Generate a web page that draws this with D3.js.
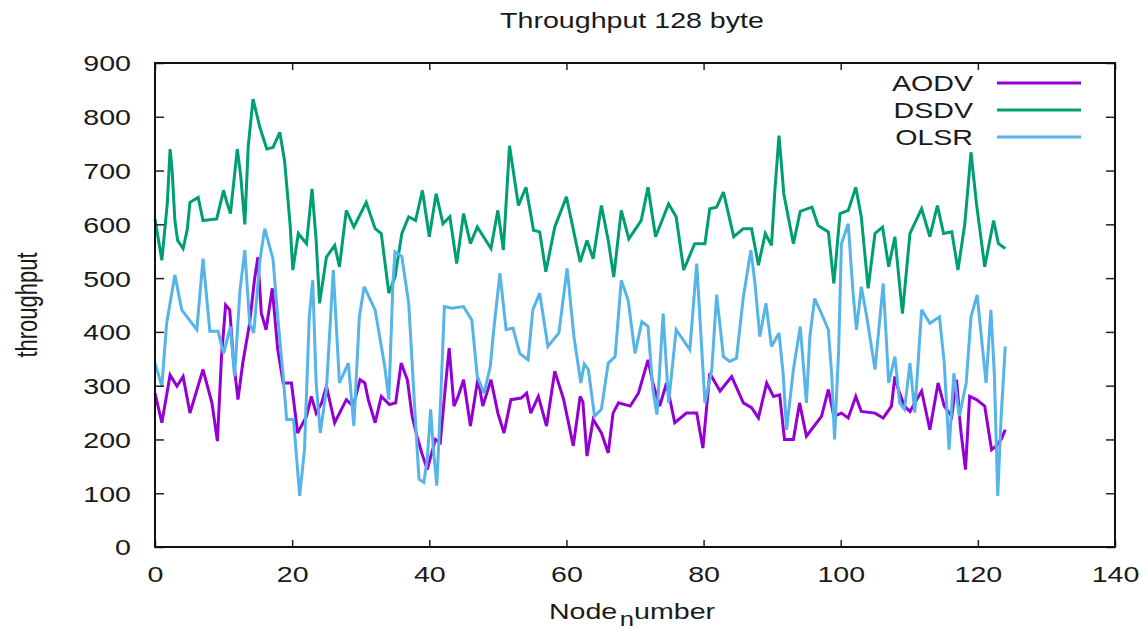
<!DOCTYPE html>
<html>
<head>
<meta charset="utf-8">
<script src="https://cdn.jsdelivr.net/npm/d3@7"></script>
<style>
  html, body { margin: 0; padding: 0; background: #fff; }
  svg { display: block; }
  text { font-family: "Liberation Sans", Arial, sans-serif; fill: #1a1a1a; }
</style>
</head>
<body>
<svg id="chart" width="1146" height="629"></svg>
<script>
// Throughput per node number for three routing protocols, 128-byte packets
const seriesNames = ["AODV", "DSDV", "OLSR"];
const seriesColors = ["#9400d3", "#009e73", "#56b4e9"];

const aodv = [
  [0,286],[1,231],[2.2,320],[3.2,299],[4.1,317],[5.1,249],[7,330],[8.3,268],[9.1,197],[9.7,354],
  [10.3,450],[10.9,441],[11.4,354],[12.1,274],[12.8,342],[13.8,416],[14.5,496],[15,539],[15.5,435],[16.2,404],
  [17.1,481],[17.9,367],[18.7,305],[19.9,305],[20.8,212],[22.1,243],[22.8,280],[23.5,249],[24.3,268],[25,299],
  [26.2,231],[27.9,274],[28.9,262],[29.9,311],[30.6,305],[31.1,274],[32.1,231],[33,280],[34.2,265],[35.1,268],
  [35.9,342],[36.8,311],[37.5,243],[38.2,206],[38.9,175],[39.7,144],[40.1,163],[40.9,200],[41.6,194],[42.4,305],
  [42.9,370],[43.6,262],[44.2,280],[45,311],[46,225],[47.1,314],[47.8,262],[49,311],[50,249],[50.9,212],
  [51.9,274],[53.4,277],[54.2,286],[54.8,249],[55.9,280],[57.1,225],[58.3,327],[59.6,274],[61,188],[62,280],
  [62.4,270],[63,169],[63.9,237],[65.1,212],[66.1,175],[66.8,249],[67.6,268],[69.3,262],[70.5,286],[71.9,348],
  [72.6,305],[73.6,262],[74.6,305],[75.8,231],[77.5,249],[79,249],[79.9,184],[80.9,323],[82.4,290],[84.1,317],
  [85.8,268],[87,259],[88,240],[89.2,305],[90.2,280],[91.1,283],[91.8,200],[93.1,200],[94,268],[95,206],
  [97.2,243],[98.2,293],[99,243],[100.1,249],[101.1,240],[102.2,280],[103,252],[105,249],[106.2,240],[107.4,262],
  [107.9,317],[108.4,293],[109.3,262],[110.1,252],[111.8,290],[113,218],[114.2,305],[115.1,262],[116.2,243],[116.9,311],
  [117.5,218],[118.2,144],[118.8,280],[119.8,274],[121,262],[122,181],[122.7,188],[123.4,200],[124,218]
];

const dsdv = [
  [0,610],[1,533],[1.8,640],[2.2,740],[2.5,700],[2.9,607],[3.3,570],[4.1,555],[4.7,590],[5.1,641],
  [6.3,650],[7,607],[9,610],[10,663],[10.5,640],[11,620],[12,740],[12.5,690],[13.1,600],[13.6,746],
  [14.3,833],[15.3,780],[16.3,740],[17.2,743],[18.2,771],[18.9,718],[19.7,600],[20.1,515],[20.9,583],[22.1,564],
  [22.9,666],[23.5,570],[24,453],[25,539],[26.2,561],[26.9,521],[27.9,626],[29,595],[30.8,641],[32.1,592],
  [33,583],[34.1,472],[35,502],[36,583],[37,614],[38,607],[39,663],[40,577],[41,657],[42,601],
  [43,614],[44,527],[45,620],[46,564],[47,595],[49,555],[50,626],[50.8,552],[51.7,746],[53,635],
  [54.1,669],[55.2,589],[56.1,586],[57,512],[58.3,595],[60,651],[62,530],[63,570],[63.9,536],[65.1,635],
  [66.1,570],[66.9,502],[68,626],[69.1,573],[70.9,607],[71.9,669],[73,577],[74.9,638],[76,614],[77.1,515],
  [78.7,564],[80.2,564],[80.9,629],[81.9,632],[82.9,660],[84.4,577],[85.8,592],[87,592],[88,524],[89,583],
  [89.9,561],[90.4,663],[91,765],[91.7,657],[93.1,564],[94.1,624],[95.8,632],[96.7,598],[98.2,586],[99,490],
  [99.9,620],[101.1,626],[102.2,669],[103,614],[104,481],[105,583],[106.1,595],[107,521],[107.9,577],[109,434],
  [110.1,583],[111.8,629],[113,577],[114.1,635],[115,583],[116.2,586],[117.1,515],[118.1,601],[119,734],[119.8,638],
  [121,521],[122.3,607],[123,564],[124,555]
];

const olsr = [
  [0,342],[1,299],[1.7,416],[2.9,506],[3.9,441],[6.1,404],[7,536],[8,401],[9.2,401],[10,360],
  [11,410],[11.6,317],[12.4,478],[13.1,552],[13.8,416],[14.4,398],[15.3,533],[16,592],[17.2,536],[17.9,428],
  [18.7,317],[19.2,237],[20.2,237],[21.1,95],[21.8,181],[22.5,428],[23,496],[23.5,305],[24.1,212],[25,293],
  [26,515],[26.9,305],[28.2,342],[29,225],[29.8,428],[30.5,484],[32.1,441],[33.5,336],[34.1,274],[34.7,490],
  [35,549],[36,540],[37,453],[38,231],[38.5,126],[39.2,120],[39.7,163],[40.2,256],[40.6,181],[41.1,114],
  [41.6,256],[42.2,447],[43.3,444],[45,447],[46.2,422],[47,317],[48,286],[48.9,336],[49.4,404],[50.3,509],
  [51.2,404],[52.2,407],[53.2,360],[54.4,348],[55.1,441],[56.1,472],[57.3,373],[58.9,398],[60.1,518],[61.1,391],
  [62.1,305],[62.6,340],[63.2,330],[64.1,243],[65.1,256],[66.1,342],[67.1,354],[68,496],[69,459],[70,360],
  [71,419],[71.9,410],[72.6,293],[73.2,246],[74.1,434],[74.9,268],[76,404],[78,367],[79,527],[80.2,268],
  [81.2,330],[81.9,469],[82.9,354],[83.8,345],[84.8,351],[85.8,465],[86.9,552],[87.5,490],[88.2,391],[89.1,453],
  [89.9,373],[91,398],[91.6,323],[92.1,218],[93.1,330],[94.1,410],[95,268],[95.5,391],[96.2,462],[97.2,434],
  [98.2,404],[98.7,317],[99.1,200],[99.7,367],[100.1,564],[101.1,601],[101.8,472],[102.3,404],[103,484],[103.8,428],
  [105,330],[106.2,490],[107,305],[107.9,354],[108.6,268],[109.3,256],[110.1,342],[110.8,250],[111.8,441],[113,416],
  [114.4,428],[115.1,342],[115.8,181],[116.5,323],[117.3,243],[118.3,305],[119,428],[119.9,469],[120.7,367],[121.2,305],
  [121.9,441],[122.4,323],[122.9,95],[123.4,243],[124,373]
];

const xTicks = [0, 20, 40, 60, 80, 100, 120, 140];
const yTicks = [0, 100, 200, 300, 400, 500, 600, 700, 800, 900];

const titleText = "Throughput 128 byte";
const yLabelText = "throughput";

// Layout
const W = 1146, H = 629;
const plot = { left: 155, right: 1115, top: 63, bottom: 547 };
const stretch = 1.3;      // wide lettering
const fontSize = 22;
const lineWidth = 3;

const svg = d3.select("#chart");

const x = d3.scaleLinear().domain([0, 140]).range([plot.left, plot.right]);
const y = d3.scaleLinear().domain([0, 900]).range([plot.bottom, plot.top]);

// Data lines
const line = d3.line().x(d => x(d[0])).y(d => y(d[1]));
[aodv, dsdv, olsr].forEach((data, i) => {
  svg.append("path")
    .datum(data)
    .attr("fill", "none")
    .attr("stroke", seriesColors[i])
    .attr("stroke-width", lineWidth)
    .attr("stroke-linejoin", "miter")
    .attr("stroke-miterlimit", 3)
    .attr("d", line);
});

// Axes: ticks point into the plot on all four sides
const tickStyle = g => {
  g.select(".domain").remove();
  g.selectAll(".tick line").attr("stroke", "#222").attr("stroke-width", 1.5);
};

const gx = svg.append("g")
  .attr("transform", `translate(0,${plot.bottom})`)
  .call(d3.axisBottom(x).tickValues(xTicks).tickSizeInner(-7).tickSizeOuter(0))
  .call(tickStyle);
gx.selectAll(".tick text")
  .attr("x", 0).attr("y", 0).attr("dy", 0)
  .attr("font-size", fontSize)
  .attr("text-anchor", "middle")
  .attr("transform", `translate(0,35) scale(${stretch},1)`);

svg.append("g")
  .attr("transform", `translate(0,${plot.top})`)
  .call(d3.axisTop(x).tickValues(xTicks).tickSizeInner(-7).tickSizeOuter(0).tickFormat(""))
  .call(tickStyle);

const gy = svg.append("g")
  .attr("transform", `translate(${plot.left},0)`)
  .call(d3.axisLeft(y).tickValues(yTicks).tickSizeInner(-9).tickSizeOuter(0))
  .call(tickStyle);
gy.selectAll(".tick text")
  .attr("x", 0).attr("y", 0).attr("dy", "0.36em")
  .attr("font-size", fontSize)
  .attr("text-anchor", "end")
  .attr("transform", `translate(-24,0) scale(${stretch},1)`);

svg.append("g")
  .attr("transform", `translate(${plot.right},0)`)
  .call(d3.axisRight(y).tickValues(yTicks).tickSizeInner(-9).tickSizeOuter(0).tickFormat(""))
  .call(tickStyle);

// Frame
svg.append("rect")
  .attr("x", plot.left).attr("y", plot.top)
  .attr("width", plot.right - plot.left).attr("height", plot.bottom - plot.top)
  .attr("fill", "none").attr("stroke", "#111").attr("stroke-width", 2);

// Title
svg.append("text")
  .attr("text-anchor", "middle")
  .attr("font-size", fontSize)
  .attr("transform", `translate(632,28) scale(${stretch},1)`)
  .text(titleText);

// X axis label with subscript n
const xl = svg.append("text")
  .attr("text-anchor", "middle")
  .attr("font-size", fontSize)
  .attr("transform", `translate(632,619) scale(${stretch},1)`);
xl.append("tspan").text("Node");
xl.append("tspan").attr("dy", 7).attr("dx", 2).attr("font-size", fontSize * 0.9).text("n");
xl.append("tspan").attr("dy", -7).text("umber");

// Y axis label
svg.append("text")
  .attr("text-anchor", "middle")
  .attr("font-size", fontSize)
  .attr("transform", `translate(37,305) scale(${stretch},1) rotate(-90)`)
  .text(yLabelText);

// Legend
const legendY = [83, 110, 137];
seriesNames.forEach((name, i) => {
  svg.append("text")
    .attr("text-anchor", "end")
    .attr("font-size", fontSize)
    .attr("dy", "0.36em")
    .attr("transform", `translate(973,${legendY[i]}) scale(${stretch},1)`)
    .text(name);
  svg.append("line")
    .attr("x1", 997).attr("x2", 1081)
    .attr("y1", legendY[i]).attr("y2", legendY[i])
    .attr("stroke", seriesColors[i]).attr("stroke-width", lineWidth);
});
</script>
</body>
</html>
